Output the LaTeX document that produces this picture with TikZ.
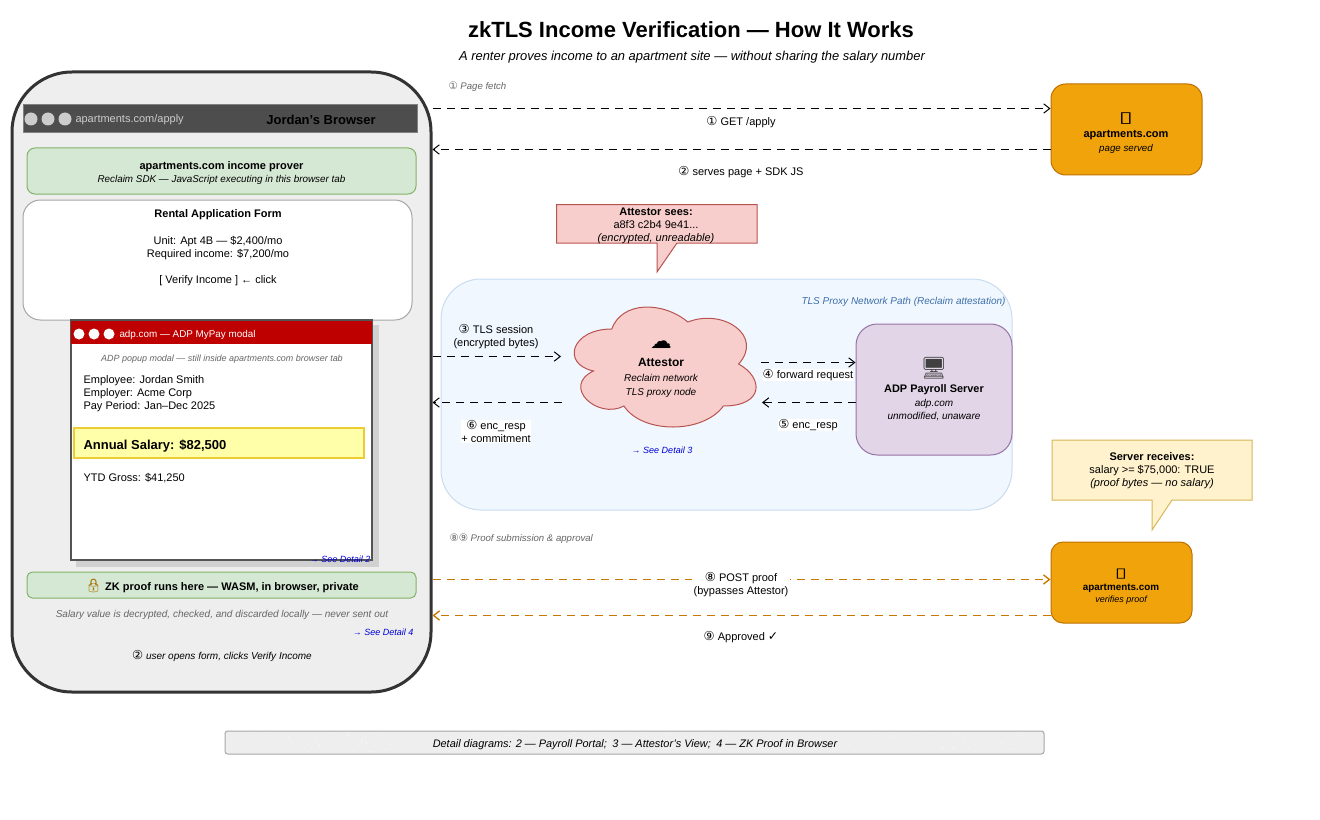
\documentclass[tikz,border=0pt]{standalone}
\usepackage{fontspec}
\setmainfont{Liberation Sans}
\newfontfamily\symfont{DejaVu Sans}
\newfontfamily\emojifont{Noto Emoji}
\usetikzlibrary{positioning,fit,arrows.meta}
\definecolor{chrome}{HTML}{4D4D4D}
\definecolor{panel}{HTML}{EEEEEE}
\definecolor{greenfill}{HTML}{D5E8D4}
\definecolor{greenline}{HTML}{82B366}
\definecolor{redfill}{HTML}{F8CECC}
\definecolor{redline}{HTML}{B85450}
\definecolor{amber}{HTML}{F0A30A}
\definecolor{amberline}{HTML}{BD7000}
\definecolor{purplefill}{HTML}{E1D5E7}
\definecolor{purpleline}{HTML}{9673A6}
\definecolor{creamfill}{HTML}{FFF2CC}
\definecolor{creamline}{HTML}{D6B656}
\definecolor{netfill}{HTML}{F0F7FF}
\definecolor{netline}{HTML}{C9DCF0}
\definecolor{netblue}{HTML}{3D6FA8}
\definecolor{modalred}{HTML}{BF0000}
\definecolor{salaryfill}{HTML}{FFFFAA}
\definecolor{salaryline}{HTML}{EECC33}
\definecolor{proofline}{HTML}{C77700}
\newcommand{\sym}[1]{{\symfont\fontsize{9.25}{9.75}\selectfont #1}}
\newcommand{\symsmall}[1]{{\symfont\fontsize{7.75}{9.75}\selectfont #1}}
\tikzset{
  frame/.style={fit={#1}, inner sep=0pt, draw},
  txt/.style={inner sep=0pt, align=center, font=\fontsize{8.25}{9.75}\selectfont},
  small/.style={txt, font=\fontsize{7}{9.75}\selectfont\itshape},
  note/.style={small, text=black!60},
  detail/.style={small, text=blue!85!black, font=\fontsize{6.75}{9}\selectfont\itshape},
  dot/.style={circle, inner sep=0pt, minimum size=#1},
  flow/.style={dash pattern=on 6pt off 4.5pt, -{Straight Barb[length=4.5pt,width=7pt]}, line width=0.75pt},
  proof/.style={flow, draw=proofline, line width=1pt}
}
\begin{document}
\begin{tikzpicture}[x=0.75pt,y=-0.75pt,line width=0.75pt]
    \useasboundingbox (0,0) rectangle (1320,820);
    \node [txt, font=\fontsize{16.5}{20}\selectfont\bfseries] (title) at (691,30) {zkTLS Income Verification --- How It Works};
    \node [txt, font=\fontsize{9.7}{12}\selectfont\itshape] (sub) at (692,57) {A renter proves income to an apartment site --- without sharing the salary number};

    \node [frame={(441,279) (1012,510)}, draw=netline, fill=netfill, rounded corners=30pt] (net) {};
    \node [small, text=netblue, font=\fontsize{7.5}{9.75}\selectfont\itshape, anchor=east] (netlbl) at (1006,302) {TLS Proxy Network Path (Reclaim attestation)};

    \node [frame={(12,72) (431,692)}, line width=2.25pt, draw=black!80, fill=panel, rounded corners=45pt] (br) {};
    \node [frame={(23,105) (417,133)}, draw=black!50, fill=chrome] (bar) {};
    \foreach \x/\n in {31/a,48/b,65/c}
      \node [dot=9.75pt, fill=black!20] (bar\n) at (\x,119) {};
    \node [txt, text=black!20, anchor=west] (url) at (75,120) {apartments.com/apply};
    \node [txt, font=\fontsize{9.75}{12}\selectfont\bfseries] (who) at (321,120) {Jordan's Browser};

    \node [frame={(27,148) (416,194)}, draw=greenline, fill=greenfill, rounded corners=6pt] (prover) {};
    \node [txt] (provertxt) at (221.5,173) {\textbf{apartments.com income prover}\\\fontsize{7.4}{10.5}\selectfont\textit{Reclaim SDK --- JavaScript executing in this browser tab}};

    \node [frame={(23,200) (412,320)}, draw=black!35, fill=white, rounded corners=13pt] (form) {};
    \node [txt, font=\fontsize{8.25}{9.75}\selectfont\bfseries] (formtitle) at (218,215) {Rental Application Form};
    \node [txt] (formunit) at (218,248) {Unit: Apt 4B --- \$2,400/mo\\Required income: \$7,200/mo};
    \node [txt] (formclick) at (218,281) {[ Verify Income ] ← click};

    \fill [black!18] (76,325) rectangle (379,567);
    \node [frame={(71,320) (372,560)}, line width=1.5pt, draw=black!67, fill=white] (modal) {};
    \node [frame={(71,320) (372,344)}, draw=none, fill=modalred] (head) {};
    \draw [line width=1.5pt, black!67] (71,320) -- (372,320);
    \foreach \x/\n in {79/a,94/b,109/c}
      \node [dot=8.25pt, fill=white] (head\n) at (\x,334) {};
    \node [txt, text=white, font=\fontsize{7.4}{9.75}\selectfont, anchor=west] (modalurl) at (119,334.5) {adp.com --- ADP MyPay modal};
    \node [note, font=\fontsize{6.72}{9.75}\selectfont\itshape] (modalnote) at (222,359) {ADP popup modal --- still inside apartments.com browser tab};
    \node [txt, align=left, anchor=north west] (emp) at (83,375) {Employee: Jordan Smith\\Employer: Acme Corp\\Pay Period: Jan--Dec 2025};
    \node [frame={(74,428) (364,458)}, line width=1.5pt, draw=salaryline, fill=salaryfill] (salary) {};
    \node [txt, font=\fontsize{9.75}{12}\selectfont\bfseries, anchor=west] (salarytxt) at (83,446) {Annual Salary: \$82,500};
    \node [txt, anchor=west] (ytd) at (83,478) {YTD Gross: \$41,250};
    \node [detail, anchor=east] (d2) at (371,559) {→ See Detail 2};

    \node [frame={(27,572) (416,598)}, draw=greenline, fill=greenfill, rounded corners=4pt] (zk) {};
    \node [txt, font=\fontsize{8.25}{10}\selectfont\bfseries] (zktxt) at (222,586) {{\emojifont\fontsize{10}{10}\selectfont\textcolor{amber!70!black}{🔒}} ZK proof runs here --- WASM, in browser, private};
    \node [note, font=\fontsize{7.5}{9.75}\selectfont\itshape] (salnote) at (222,615) {Salary value is decrypted, checked, and discarded locally --- never sent out};
    \node [detail, anchor=east] (d4) at (414,632) {→ See Detail 4};
    \node [small, font=\fontsize{7.5}{9.75}\selectfont\itshape] (opens) at (222,656) {\sym{②} user opens form, clicks Verify Income};

    \node [frame={(1051,84) (1202,175)}, draw=amberline, fill=amber, rounded corners=11pt] (srva) {};
    \node [txt, font=\fontsize{8.25}{9.75}\selectfont\bfseries] (srvaname) at (1126,135) {apartments.com};
    \node [above=3.5pt of srvaname, inner sep=0pt, font=\symfont\bfseries\fontsize{12}{12}\selectfont] (srvaicon) {\scalebox{1.6}[0.95]{▯}};
    \node [small, below=2.5pt of srvaname, font=\fontsize{7.3}{9.75}\selectfont\itshape] (srvanote) {page served};

    \node [note, font=\fontsize{7.2}{9.75}\selectfont\itshape, anchor=west] (fetch) at (448,87) {\symsmall{①} Page fetch};
    \draw [flow] (br.east |- 0,108.5) -- (srva.west |- 0,108.5);
    \node [txt] (get) at (741,122) {\sym{①} GET /apply};
    \draw [flow] (srva.west |- 0,149.5) -- (br.east |- 0,149.5);
    \node [txt] (serves) at (741,172) {\sym{②} serves page + SDK JS};

    \draw [draw=redline, fill=redfill] (556.5,204.5) -- (757,204.5) -- (757,243) -- (677,243) -- (657,272) -- (657,243) -- (556.5,243) -- cycle;
    \node [txt] (sees) at (656,226) {\textbf{Attestor sees:}\\a8f3 c2b4 9e41...\\\textit{(encrypted, unreadable)}};

    \begin{scope}[shift={(561,294)},x=152.25pt,y=-105pt]
      \draw [draw=redline, fill=redfill]
        (.25,.25) .. controls (.05,.25) and (0,.5) .. (.16,.55)
        .. controls (0,.66) and (.18,.9) .. (.31,.8)
        .. controls (.4,1) and (.7,1) .. (.8,.8)
        .. controls (1,.8) and (1,.6) .. (.875,.5)
        .. controls (1,.3) and (.8,.1) .. (.625,.2)
        .. controls (.5,.05) and (.3,.05) .. (.25,.25) -- cycle;
    \end{scope}
    \node [txt, font=\fontsize{9}{11}\selectfont\bfseries] (att) at (661,362) {Attestor};
    \node [above=6pt of att, inner sep=0pt, font=\symfont\bfseries\fontsize{16}{16}\selectfont] (atticon) {☁};
    \node [small, below=5pt of att, font=\fontsize{7.5}{10.5}\selectfont\itshape] (attnote) {Reclaim network\\TLS proxy node};
    \node [detail] (d3) at (662,450) {→ See Detail 3};

    \node [frame={(856,324) (1012,455)}, draw=purpleline, fill=purplefill, rounded corners=16pt] (adp) {};
    \node [txt, font=\fontsize{8.2}{9.75}\selectfont\bfseries] (adpname) at (934,390) {ADP Payroll Server};
    \node [above=4pt of adpname, inner sep=0pt, text=black!75, font=\emojifont\fontsize{16}{16}\selectfont] (adpicon) {🖥};
    \node [small, below=2.5pt of adpname, font=\fontsize{7.5}{9.75}\selectfont\itshape] (adpnote) {adp.com\\unmodified, unaware};

    \coordinate (tlsend) at (561,356.5);
    \coordinate (respstart) at (562,402.5);
    \coordinate (fwdstart) at (761,362.5);
    \coordinate (encend) at (762,402.5);
    \draw [flow] (br.east |- tlsend) -- (tlsend);
    \node [txt] (tls) at (496,337) {\sym{③} TLS session\\(encrypted bytes)};
    \draw [flow] (respstart) -- (br.east |- respstart);
    \node [txt, fill=white] (resp) at (496,431.5) {\sym{⑥} enc\_resp\\+ commitment};
    \draw [flow] (fwdstart) -- (adp.west |- fwdstart);
    \node [txt, fill=white] (fwd) at (808,375) {\sym{④} forward request};
    \draw [flow] (adp.west |- encend) -- (encend);
    \node [txt, fill=white] (enc) at (808,425) {\sym{⑤} enc\_resp};

    \draw [draw=creamline, fill=creamfill] (1052,440) -- (1252,440) -- (1252,500) -- (1172,500) -- (1152,530) -- (1152,500) -- (1052,500) -- cycle;
    \node [txt] (recv) at (1152,471) {\textbf{Server receives:}\\salary >= \$75,000: TRUE\\\textit{(proof bytes --- no salary)}};

    \node [frame={(1051,542) (1192,623)}, draw=amberline, fill=amber, rounded corners=9pt] (srvb) {};
    \node [txt, font=\fontsize{7.4}{9.75}\selectfont\bfseries] (srvbname) at (1121,588) {apartments.com};
    \node [above=3pt of srvbname, inner sep=0pt, font=\symfont\bfseries\fontsize{10.5}{11}\selectfont] (srvbicon) {\scalebox{1.6}[0.95]{▯}};
    \node [small, below=2pt of srvbname, font=\fontsize{6.75}{9}\selectfont\itshape] (srvbnote) {verifies proof};

    \node [note, font=\fontsize{7.2}{9.75}\selectfont\itshape, anchor=west] (sub89) at (449,539) {\symsmall{⑧⑨} Proof submission \& approval};
    \draw [proof] (br.east |- 0,579.5) -- (srvb.west |- 0,579.5);
    \node [txt, fill=white, inner xsep=1.5pt] (post) at (741,585) {\sym{⑧} POST proof\\(bypasses Attestor)};
    \draw [proof] (srvb.west |- 0,615.5) -- (br.east |- 0,615.5);
    \node [txt] (ok) at (741,637) {\sym{⑨} Approved \sym{✓}};

    \node [frame={(225,731) (1044,754)}, draw=black!35, fill=panel, rounded corners=2pt] (foot) {};
    \pgfmathsetseed{7}
    \foreach \i in {1,...,260}
      \fill [white] ({227+815*rnd},{733+19*rnd}) circle (0.3pt);
    \node [small, font=\fontsize{8.2}{9.75}\selectfont\itshape] (foottxt) at (635,745) {Detail diagrams: 2 --- Payroll Portal;\enspace 3 --- Attestor's View;\enspace 4 --- ZK Proof in Browser};
\end{tikzpicture}
\end{document}
